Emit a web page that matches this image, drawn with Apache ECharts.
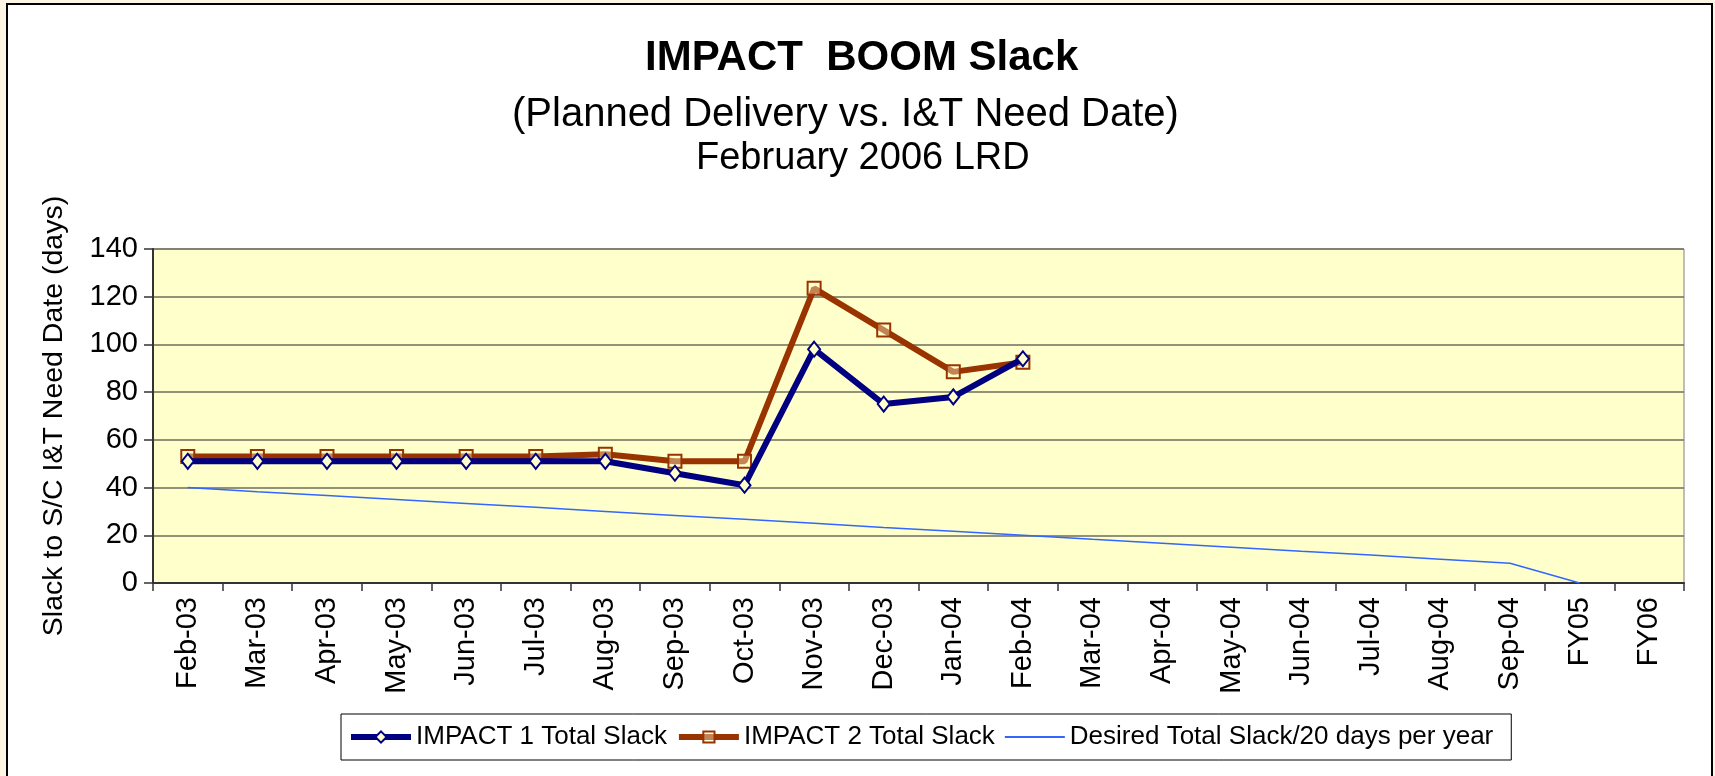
<!DOCTYPE html>
<html>
<head>
<meta charset="utf-8">
<title>IMPACT BOOM Slack</title>
<script src="https://cdn.jsdelivr.net/npm/echarts@6/dist/echarts.min.js"></script>
<style>
  html, body { margin: 0; padding: 0; background: #fdf5e4; }
  #chart { width: 1715px; height: 776px; }
</style>
</head>
<body>
<div id="chart"></div>
<script>
// categories along the bottom
var months = ['Feb-03', 'Mar-03', 'Apr-03', 'May-03', 'Jun-03', 'Jul-03', 'Aug-03', 'Sep-03', 'Oct-03',
  'Nov-03', 'Dec-03', 'Jan-04', 'Feb-04', 'Mar-04', 'Apr-04', 'May-04', 'Jun-04', 'Jul-04', 'Aug-04',
  'Sep-04', 'FY05', 'FY06'];

// slack values (days)
var impact1 = [51, 51, 51, 51, 51, 51, 51, 46, 41, 98, 75, 78, 94];
var impact2 = [53, 53, 53, 53, 53, 53, 54, 51, 51, 123.5, 106, 88.5, 92.5];
var desired = [40, 38.3, 36.7, 35, 33.3, 31.7, 30, 28.3, 26.7, 25, 23.3, 21.7, 20, 18.3, 16.7, 15,
  13.3, 11.7, 10, 8.3, 0, null];

var font = "'Liberation Sans', Arial, sans-serif";

var myChart = echarts.init(document.getElementById('chart'));
var option = {
  backgroundColor: '#fdf5e4',
  animation: false,
  textStyle: { fontFamily: font, color: '#000' },
  graphic: [{
    type: 'rect', z: -10, silent: true,
    shape: { x: 7, y: 4, width: 1705, height: 800 },
    style: { fill: '#fff', stroke: '#000', lineWidth: 2 }
  }],
  title: [
    { text: 'IMPACT  BOOM Slack', left: 640, top: 32,
      textStyle: { fontFamily: font, fontSize: 42, fontWeight: 'bold', color: '#000' } },
    { text: '(Planned Delivery vs. I&T Need Date)', left: 507, top: 90,
      textStyle: { fontFamily: font, fontSize: 40, fontWeight: 'normal', color: '#000' } },
    { text: 'February 2006 LRD', left: 691, top: 135,
      textStyle: { fontFamily: font, fontSize: 38, fontWeight: 'normal', color: '#000' } }
  ],
  legend: {
    left: 341, top: 714,
    padding: [10, 18, 10, 7],
    itemGap: 9, itemWidth: 60, itemHeight: 14,
    borderColor: '#000', borderWidth: 1, backgroundColor: '#fff',
    textStyle: { fontFamily: font, fontSize: 26, color: '#000' },
    data: [
      { name: 'IMPACT 1 Total Slack', lineStyle: { width: 6 } },
      { name: 'IMPACT 2 Total Slack', lineStyle: { width: 6 } },
      { name: 'Desired Total Slack/20 days per year', lineStyle: { width: 2 }, itemStyle: { opacity: 0 } }
    ]
  },
  grid: {
    left: 153, right: 31, top: 249, bottom: 193,
    show: true, backgroundColor: '#ffffcc', borderColor: '#808080', borderWidth: 1
  },
  xAxis: {
    type: 'category',
    data: months,
    boundaryGap: true,
    axisLine: { lineStyle: { color: '#333', width: 2 } },
    axisTick: { show: true, interval: 0, length: 8, lineStyle: { color: '#333', width: 1.5 } },
    axisLabel: { interval: 0, rotate: 90, margin: 14, fontSize: 29, fontFamily: font, color: '#000' }
  },
  yAxis: {
    type: 'value',
    min: 0, max: 140, interval: 20,
    name: 'Slack to S/C I&T Need Date (days)',
    nameLocation: 'middle', nameGap: 84, nameRotate: 90,
    nameTextStyle: { fontFamily: font, fontSize: 28.5, color: '#000' },
    axisLine: { show: true, lineStyle: { color: '#333', width: 2 } },
    axisTick: { show: true, length: 9, lineStyle: { color: '#333', width: 1.5 } },
    axisLabel: { margin: 15, fontSize: 29, fontFamily: font, color: '#000' },
    splitLine: { show: true, lineStyle: { color: '#6e6e60', width: 1.5 } }
  },
  series: [
    {
      name: 'IMPACT 1 Total Slack',
      type: 'line',
      data: impact1,
      symbol: 'diamond', symbolSize: [12, 15],
      lineStyle: { color: '#000080', width: 6 },
      itemStyle: { color: '#ffffcc', borderColor: '#000080', borderWidth: 2 },
      z: 3
    },
    {
      name: 'IMPACT 2 Total Slack',
      type: 'line',
      data: impact2,
      symbol: 'rect', symbolSize: 13,
      lineStyle: { color: '#993300', width: 6 },
      itemStyle: { color: 'rgba(255,255,204,0.4)', borderColor: '#993300', borderWidth: 2 },
      z: 2
    },
    {
      name: 'Desired Total Slack/20 days per year',
      type: 'line',
      data: desired,
      symbol: 'none',
      lineStyle: { color: '#3366ff', width: 1.5 },
      itemStyle: { color: '#3366ff' },
      z: 1
    }
  ]
};
myChart.setOption(option);
</script>
</body>
</html>
